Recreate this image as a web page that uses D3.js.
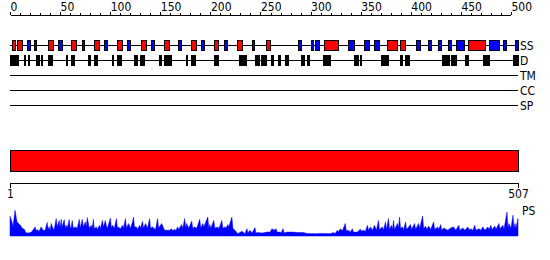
<!DOCTYPE html>
<html>
<head>
<meta charset="utf-8">
<script src="https://cdn.jsdelivr.net/npm/d3@7"></script>
<style>
    body { margin: 0; background: #fff; }
    svg text { font-family: "Liberation Sans Narrow", "DejaVu Sans Condensed", sans-serif; font-size: 12px; fill: #000; }
    .axis path, .axis line { stroke: #000; shape-rendering: crispEdges; }
</style>
</head>
<body>
<div id="chart"></div>
<script>
const seqLength = 507;

// secondary structure, residue ranges
const helices = [[2, 5], [7, 12], [38, 43], [61, 66], [84, 89], [107, 112], [131, 136], [154, 159],
    [181, 186], [204, 208], [227, 232], [255, 259], [313, 327], [376, 386], [389, 394], [457, 474]];
const strands = [[17, 20], [24, 26], [48, 52], [72, 74], [94, 97], [117, 120], [141, 144], [168, 171],
    [191, 194], [214, 217], [242, 244], [287, 290], [300, 302], [304, 308], [337, 343], [353, 358],
    [363, 368], [405, 409], [417, 420], [427, 430], [437, 440], [445, 453], [478, 488], [492, 495], [504, 507]];

// disordered regions
const disorder = [[0, 8], [14, 15], [18, 19], [26, 29], [31, 32], [38, 42], [56, 57], [61, 64], [78, 80],
    [84, 87], [102, 103], [107, 111], [124, 127], [130, 134], [149, 151], [154, 161], [176, 177], [181, 185],
    [204, 208], [229, 236], [245, 249], [251, 256], [260, 262], [267, 269], [274, 277], [290, 293], [296, 298],
    [312, 319], [343, 345], [346, 347], [349, 350], [370, 377], [389, 391], [394, 398], [431, 438], [440, 445],
    [454, 457], [472, 478], [502, 507]];

const tracks = ["SS", "D", "TM", "CC", "SP"];
const domains = [[1, 507]];
const rulerTicks = [1, 507];

// PS profile (residue, score)
const psPos = [1, 3, 4, 6, 8, 10, 12, 13, 15, 17, 20, 22, 23, 26, 27, 28, 30, 32, 34, 36, 38, 39, 40, 41, 42, 44, 45,
    47, 48, 50, 51, 52, 53, 55, 56, 57, 58, 60, 61, 62, 63, 64, 66, 68, 70, 71, 73, 74, 76, 77, 78, 80, 82, 83, 84,
    85, 87, 88, 90, 91, 93, 94, 96, 97, 98, 101, 102, 103, 105, 107, 108, 109, 111, 113, 114, 116, 117, 119, 121,
    123, 124, 125, 127, 128, 130, 131, 133, 134, 136, 138, 140, 141, 143, 145, 146, 148, 149, 152, 154, 155, 157,
    160, 162, 163, 165, 166, 168, 169, 172, 173, 175, 176, 177, 179, 182, 183, 185, 187, 190, 191, 193, 194, 198,
    199, 200, 201, 204, 205, 208, 209, 212, 213, 215, 216, 218, 219, 222, 223, 225, 228, 232, 235, 237, 238, 240,
    242, 245, 246, 248, 251, 253, 257, 260, 262, 264, 266, 267, 270, 271, 273, 274, 277, 283, 287, 293, 297, 305,
    312, 320, 323, 325, 327, 328, 330, 332, 335, 336, 338, 340, 342, 343, 345, 347, 350, 351, 353, 355, 357, 358,
    360, 362, 364, 366, 368, 369, 372, 373, 375, 376, 378, 379, 381, 382, 383, 384, 387, 388, 389, 390, 392, 393,
    395, 396, 400, 401, 404, 405, 408, 409, 412, 413, 415, 416, 418, 420, 423, 424, 427, 428, 430, 431, 433, 437,
    440, 443, 445, 448, 449, 452, 454, 457, 459, 460, 462, 464, 465, 468, 470, 472, 474, 477, 478, 480, 481, 484,
    485, 488, 489, 492, 493, 496, 497, 498, 500, 502, 503, 504, 505, 507];
const psVal = [0.76, 0.54, 0.35, 0.99, 0.54, 0.46, 0.38, 0.30, 0.27, 0.12, 0.12, 0.14, 0.18, 0.35, 0.20, 0.25, 0.18,
    0.35, 0.22, 0.22, 0.52, 0.25, 0.35, 0.22, 0.48, 0.28, 0.25,
    0.67, 0.35, 0.60, 0.30, 0.64, 0.35, 0.63, 0.30, 0.41, 0.30, 0.63, 0.30, 0.35, 0.60, 0.30, 0.35, 0.30, 0.64,
    0.30, 0.64, 0.35, 0.54, 0.35, 0.71, 0.30, 0.41, 0.30, 0.64,
    0.28, 0.35, 0.25, 0.41, 0.28, 0.60, 0.35, 0.60, 0.38, 0.30, 0.69, 0.30, 0.41, 0.30, 0.67, 0.30, 0.35, 0.28,
    0.41, 0.30, 0.67, 0.30, 0.48, 0.30,
    0.54, 0.73, 0.35, 0.35, 0.25, 0.41, 0.30, 0.57, 0.30, 0.48, 0.30, 0.67, 0.30, 0.35, 0.28, 0.25, 0.67, 0.30,
    0.48, 0.31, 0.22, 0.22,
    0.22, 0.28, 0.20, 0.26, 0.20, 0.35, 0.25, 0.44, 0.28, 0.67, 0.30, 0.48, 0.30, 0.57, 0.30, 0.35, 0.30, 0.64,
    0.30, 0.48, 0.35, 0.73,
    0.30, 0.44, 0.30, 0.60, 0.30, 0.35, 0.28, 0.60, 0.30, 0.35, 0.30, 0.44, 0.35, 0.73, 0.30, 0.22, 0.09, 0.18,
    0.09, 0.28, 0.12, 0.22,
    0.12, 0.32, 0.12, 0.13, 0.12, 0.12, 0.15, 0.15, 0.28, 0.22, 0.28, 0.15, 0.15, 0.12, 0.28, 0.12, 0.15, 0.15,
    0.13, 0.13, 0.10, 0.09,
    0.10, 0.09, 0.13, 0.10, 0.22, 0.15, 0.28, 0.20, 0.48, 0.20, 0.22, 0.15, 0.28, 0.15, 0.15, 0.15, 0.26, 0.18,
    0.22, 0.18, 0.41, 0.22,
    0.35, 0.22, 0.41, 0.22, 0.60, 0.25, 0.35, 0.22, 0.54, 0.25, 0.67, 0.25, 0.41, 0.25, 0.60, 0.25, 0.48, 0.30,
    0.73, 0.30, 0.35, 0.22,
    0.54, 0.25, 0.44, 0.25, 0.48, 0.25, 0.48, 0.28, 0.77, 0.28, 0.38, 0.25, 0.38, 0.25, 0.54, 0.25, 0.35, 0.25,
    0.44, 0.22, 0.31, 0.22,
    0.31, 0.35, 0.22, 0.41, 0.22, 0.31, 0.22, 0.35, 0.22, 0.28, 0.22, 0.41, 0.22, 0.28, 0.22, 0.35, 0.22, 0.35,
    0.25, 0.41, 0.25, 0.38,
    0.25, 0.48, 0.28, 0.41, 0.25, 0.92, 0.30, 0.48, 0.30, 0.80, 0.30, 0.48, 0.30, 0.67];

const width = 550, height = 260;
const trackTop = 45, trackStep = 15, boxH = 10;

const svg = d3.select("#chart")
    .append("svg")
    .attr("width", width)
    .attr("height", height);

const x = d3.scaleLinear().domain([0, seqLength]).range([10, 518]);

// top ruler, minor + major ticks
const xTop = x.copy().domain([0, 500]).range([x(0), x(500)]);
svg.append("g")
    .attr("class", "axis")
    .attr("transform", "translate(0,14.5)")
    .call(d3.axisTop(xTop).tickValues(d3.range(0, 501, 10)).tickSize(2).tickSizeOuter(0).tickFormat(""));
const topAxis = svg.append("g")
    .attr("class", "axis")
    .attr("transform", "translate(0,14.5)")
    .call(d3.axisTop(xTop).tickValues(d3.range(0, 501, 50)).tickSize(3).tickPadding(1).tickSizeOuter(0));
topAxis.select(".domain").remove();
topAxis.selectAll("text").attr("text-anchor", "start").style("font-size", "12px");

// track lines and labels
const trackY = d => trackTop + tracks.indexOf(d) * trackStep;
svg.selectAll("line.track")
    .data(tracks)
    .enter()
    .append("line")
    .attr("class", "track")
    .attr("x1", x(0)).attr("x2", x(seqLength))
    .attr("y1", d => trackY(d) + 0.5).attr("y2", d => trackY(d) + 0.5)
    .style("stroke", "#000")
    .style("shape-rendering", "crispEdges");
svg.selectAll("text.track")
    .data(tracks)
    .enter()
    .append("text")
    .attr("class", "track")
    .attr("x", x(seqLength) + 2)
    .attr("y", d => trackY(d) + 5)
    .text(d => d);

// secondary structure boxes
function boxes(sel, data, cls, fill, y) {
    sel.selectAll("rect." + cls)
        .data(data)
        .enter()
        .append("rect")
        .attr("class", cls)
        .attr("x", d => Math.round(x(d[0])) + 0.5)
        .attr("width", d => Math.max(1, Math.round(x(d[1]) - x(d[0]))))
        .attr("y", y - boxH / 2 + 0.5)
        .attr("height", boxH)
        .style("fill", fill)
        .style("stroke", "#000")
        .style("shape-rendering", "crispEdges");
}
boxes(svg, helices, "helix", "#ff0000", trackY("SS"));
boxes(svg, strands, "strand", "#0000ff", trackY("SS"));
boxes(svg, disorder, "dis", "#000", trackY("D"));

// domain bar
const xr = d3.scaleLinear().domain([1, seqLength]).range([10, 518]);
svg.selectAll("rect.domain-bar")
    .data(domains)
    .enter()
    .append("rect")
    .attr("class", "domain-bar")
    .attr("x", d => xr(d[0]) + 0.5)
    .attr("width", d => xr(d[1]) - xr(d[0]))
    .attr("y", 150.5)
    .attr("height", 21)
    .style("fill", "#ff0000")
    .style("stroke", "#000")
    .style("shape-rendering", "crispEdges");

// bottom ruler
const ruler = svg.append("g")
    .attr("class", "axis")
    .attr("transform", "translate(0,182.5)")
    .call(d3.axisBottom(xr).tickValues(rulerTicks).tickSize(5).tickPadding(2).tickSizeOuter(5));
ruler.selectAll("text").style("font-size", "12px");

// PS profile
const ps = psPos.map((p, i) => ({ pos: p, val: psVal[i] }));
const yPs = d3.scaleLinear().domain([0, 1]).range([236, 210]);
svg.append("path")
    .datum(ps)
    .attr("d", d3.area().x(d => xr(d.pos)).y0(yPs(0)).y1(d => yPs(d.val)))
    .style("fill", "#0000ff")
    .style("stroke", "#0000ff")
    .style("stroke-width", 0.5);
svg.append("text")
    .attr("x", 522)
    .attr("y", 215)
    .text("PS");
</script>
</body>
</html>
